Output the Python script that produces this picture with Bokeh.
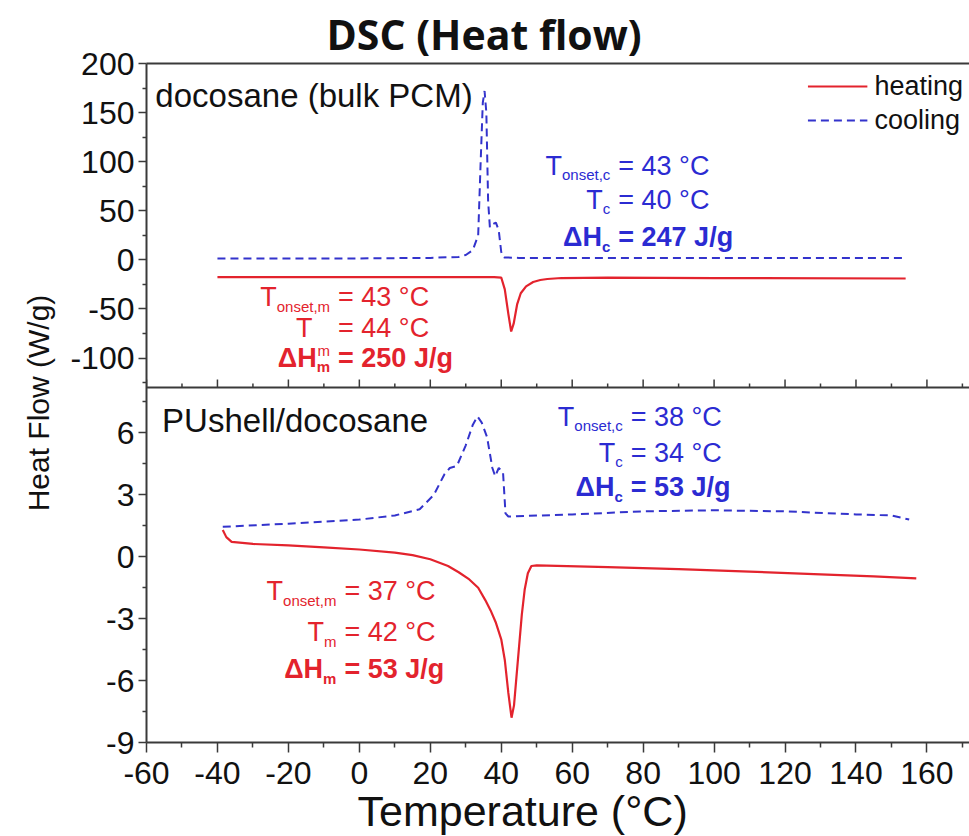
from bokeh.plotting import figure
from bokeh.models import (Range1d, LinearAxis, FixedTicker, CustomJSTickFormatter,
                          Span, Legend, LegendItem, Title)
from bokeh.core.properties import value
from bokeh.embed import file_html
from bokeh.resources import INLINE

# ---------------- data ----------------
# docosane (bulk PCM) - heating (W/g)
bulk_heat_T = [-40, 0, 38, 40, 41, 42, 42.8, 43.5, 44.5, 45.5, 47, 49, 51, 53, 57, 70, 100, 154]
bulk_heat_Q = [-17.5, -17.5, -17.5, -18, -30, -55, -73, -65, -45, -34, -27, -22.5, -20.5,
               -19.5, -18.5, -18, -18.5, -19]
# docosane (bulk PCM) - cooling
bulk_cool_T = [-40, 0, 20, 28, 30, 32, 33.5, 34.2, 34.8, 35.3, 35.8, 36.3, 36.8, 37.5,
               38.5, 39.3, 40, 40.8, 45, 100, 154]
bulk_cool_Q = [1.5, 1.5, 2, 3, 5, 10, 25, 100, 160, 172, 150, 60, 33, 36, 38, 30, 8, 2.5,
               2, 2, 2]
# PUshell/docosane - heating
shell_heat_T = [-38.5, -37.5, -36, -30, -20, -10, 0, 10, 15, 20, 25, 28, 31, 33.5, 35.5,
                37, 38.5, 40, 41, 42, 42.9, 43.6, 44.3, 45, 45.8, 46.6, 47.5, 48.5, 50,
                70, 90, 110, 130, 145, 157]
shell_heat_Q = [1.3, 0.95, 0.72, 0.62, 0.55, 0.45, 0.35, 0.2, 0.08, -0.12, -0.45, -0.75,
                -1.1, -1.5, -2.1, -2.6, -3.2, -4.0, -5.0, -6.6, -7.8, -7.2, -5.8, -4.4,
                -2.8, -1.6, -0.8, -0.45, -0.42, -0.5, -0.6, -0.72, -0.85, -0.95, -1.05]
# PUshell/docosane - cooling
shell_cool_T = [-38.5, -20, 0, 10, 17, 21, 24, 25.5, 27.5, 30, 32, 33.3, 34.5, 36, 37.5,
                38.3, 39.3, 40.5, 41.2, 42, 60, 80, 100, 120, 140, 150, 155]
shell_cool_Q = [1.45, 1.6, 1.8, 2.0, 2.3, 3.0, 4.0, 4.3, 4.4, 5.4, 6.4, 6.8, 6.5, 5.8, 4.3,
                3.9, 4.3, 4.1, 2.1, 1.95, 2.05, 2.2, 2.25, 2.2, 2.05, 2.0, 1.8]

x_ticks = [-60, -40, -20, 0, 20, 40, 60, 80, 100, 120, 140, 160]
x_minor = [-50, -30, -10, 10, 30, 50, 70, 90, 110, 130, 150, 170]
top_ticks = [-100, -50, 0, 50, 100, 150, 200]
top_minor = [-125, -75, -25, 25, 75, 125, 175]
bot_ticks = [-9, -6, -3, 0, 3, 6]
bot_minor = [-7.5, -4.5, -1.5, 1.5, 4.5, 7.5]

legend_labels = ["heating", "cooling"]
panel_labels = ["docosane (bulk PCM)", "PUshell/docosane"]

# annotation texts: (prefix, subscript, rest, bold)
top_cool_txt = [("T", "onset,c", "= 43 °C", False), ("T", "c", "= 40 °C", False),
                ("ΔH", "c", "= 247 J/g", True)]
top_heat_txt = [("T", "onset,m", "= 43 °C", False), ("T", "m", "= 44 °C", False),
                ("ΔH", "m", "= 250 J/g", True)]
bot_cool_txt = [("T", "onset,c", "= 38 °C", False), ("T", "c", "= 34 °C", False),
                ("ΔH", "c", "= 53 J/g", True)]
bot_heat_txt = [("T", "onset,m", "= 37 °C", False), ("T", "m", "= 42 °C", False),
                ("ΔH", "m", "= 53 J/g", True)]

X_LIM = (-60, 172)
TOP_LIM = (-130, 200)
BOT_LIM = (-9, 8.2)

# ---------------- layout ----------------
W, H = 969, 836
B_LEFT, B_TOP, B_BOTTOM = 146, 63, 94
frame_h = H - B_TOP - B_BOTTOM
top_h = 324
bot_h = frame_h - top_h

top_start = TOP_LIM[1] - (TOP_LIM[1] - TOP_LIM[0]) * frame_h / top_h
bot_end = BOT_LIM[0] + (BOT_LIM[1] - BOT_LIM[0]) * frame_h / bot_h
k = (bot_end - BOT_LIM[0]) / (TOP_LIM[1] - top_start)
px_unit = (bot_end - BOT_LIM[0]) / frame_h


def to_main(t):
    return BOT_LIM[0] + (t - top_start) * k


RED = "#e3232d"
BLUE = "#3333cc"
BLUE_TXT = "#2b2bd2"
AX = "#3a3a3a"
FONT = "Liberation Sans"

p = figure(width=W, height=H, output_backend="svg", toolbar_location=None,
           x_range=Range1d(*X_LIM), y_range=Range1d(BOT_LIM[0], bot_end),
           min_border_left=B_LEFT, min_border_right=0, min_border_top=B_TOP,
           min_border_bottom=B_BOTTOM)
p.extra_y_ranges = {"top": Range1d(top_start, TOP_LIM[1])}
p.outline_line_color = None
p.xgrid.visible = False
p.ygrid.visible = False
p.background_fill_color = "white"
p.border_fill_color = "white"

# title
p.title.text = "DSC (Heat flow)"
p.title.text_font = "Open Sans"
p.title.text_font_style = "bold"
p.title.text_font_size = "41px"
p.title.align = "left"
p.title.offset = 180
p.title.standoff = 3
p.title.text_color = "#111111"

# x axis (bottom)
xa = p.xaxis[0]
xa.ticker = FixedTicker(ticks=x_ticks, minor_ticks=x_minor)
xa.formatter = CustomJSTickFormatter(code="return String(Math.round(tick));")
xa.major_tick_out = 10
xa.major_tick_in = 0
xa.minor_tick_out = 5
xa.minor_tick_in = 0
xa.axis_line_color = AX
xa.axis_line_width = 2
xa.major_tick_line_color = AX
xa.minor_tick_line_color = AX
xa.major_tick_line_width = 1.5
xa.minor_tick_line_width = 1.5
xa.major_label_text_font = FONT
xa.major_label_text_font_size = "32px"
xa.major_label_text_color = "#111111"
xa.major_label_standoff = 9

# x axis title, placed below the axis where the reference has it
p.add_layout(Title(text="Temperature (°C)", align="left", offset=211, standoff=-4,
                   text_font=FONT, text_font_size="43px", text_font_style="normal",
                   text_color="#111111", vertical_align="bottom"), "below")

# y axis (left): shared line with both panels
ya = p.yaxis[0]
ya.ticker = FixedTicker(ticks=bot_ticks + [to_main(t) for t in top_ticks],
                        minor_ticks=bot_minor + [to_main(t) for t in top_minor])
ya.formatter = CustomJSTickFormatter(
    args=dict(split=BOT_LIM[1], t0=top_start, b0=BOT_LIM[0], k=k),
    code="""
    if (tick > split) { return String(Math.round(t0 + (tick - b0) / k)); }
    return String(Math.round(tick));
    """)
ya.major_tick_out = 8
ya.major_tick_in = 0
ya.minor_tick_out = 4
ya.minor_tick_in = 0
ya.axis_line_color = AX
ya.axis_line_width = 2
ya.major_tick_line_color = AX
ya.minor_tick_line_color = AX
ya.major_tick_line_width = 1.5
ya.minor_tick_line_width = 1.5
ya.major_label_text_font = FONT
ya.major_label_text_font_size = "32px"
ya.major_label_text_color = "#111111"
ya.major_label_standoff = 4
ya.axis_label = "Heat Flow (W/g)"
ya.axis_label_text_font = FONT
ya.axis_label_text_font_size = "30px"
ya.axis_label_text_font_style = "normal"
ya.axis_label_text_color = "#111111"
ya.axis_label_standoff = 12

# top frame line
top_axis = LinearAxis(ticker=FixedTicker(ticks=[]), major_tick_out=0, major_tick_in=0,
                      minor_tick_out=0, minor_tick_in=0, axis_line_color=AX,
                      axis_line_width=2, major_label_text_font_size="0px")
p.add_layout(top_axis, "above")

# boundary between the two panels, with ticks pointing up
p.add_layout(Span(location=BOT_LIM[1], dimension="width", line_color=AX, line_width=2))
p.segment(x0=x_ticks, x1=x_ticks, y0=[BOT_LIM[1]] * len(x_ticks),
          y1=[BOT_LIM[1] + 8 * px_unit] * len(x_ticks), line_color=AX, line_width=1.5)
p.segment(x0=x_minor, x1=x_minor, y0=[BOT_LIM[1]] * len(x_minor),
          y1=[BOT_LIM[1] + 4 * px_unit] * len(x_minor), line_color=AX, line_width=1.5)

# curves
r_heat = p.line(bulk_heat_T, bulk_heat_Q, y_range_name="top", line_color=RED, line_width=2.2)
r_cool = p.line(bulk_cool_T, bulk_cool_Q, y_range_name="top", line_color=BLUE,
                line_width=2, line_dash="8 5")
p.line(shell_heat_T, shell_heat_Q, line_color=RED, line_width=2.2)
p.line(shell_cool_T, shell_cool_Q, line_color=BLUE, line_width=2, line_dash="8 5")

legend = Legend(items=[LegendItem(label=legend_labels[0], renderers=[r_heat]),
                       LegendItem(label=legend_labels[1], renderers=[r_cool])],
                location="top_right", border_line_color=None, background_fill_alpha=0,
                label_text_font=FONT, label_text_font_size="27px", label_text_color="#111111",
                glyph_width=60, label_standoff=7, spacing=0, padding=2, margin=6,
                label_height=34, glyph_height=34)
p.add_layout(legend)

# panel labels
p.text(x=[-57.5], y=[167.5], text=[panel_labels[0]], y_range_name="top",
       text_font=value(FONT), text_font_size="33px", text_color="#111111",
       text_baseline="alphabetic")
p.text(x=[-55.6], y=[6.6], text=[panel_labels[1]],
       text_font=value(FONT), text_font_size="33px", text_color="#111111",
       text_baseline="alphabetic")

# annotations with subscripts
W_REG = {"o": .556, "n": .556, "s": .5, "e": .556, "t": .278, ",": .278, "c": .5, "m": .833}
W_BOLD = {"o": .611, "n": .611, "s": .556, "e": .556, "t": .333, ",": .278, "c": .556, "m": .889}
MAIN_SIZE = 27
SUB_SIZE = 15


def annotate(lines, ax, ys, color, yr, gap=8, sub_dy=(9, 9, 9), pre_extra=(0, 0, 0)):
    kw = {} if yr is None else {"y_range_name": yr}
    for (pre, sub, rest, bold), yv, sdy, pex in zip(lines, ys, sub_dy, pre_extra):
        style = "bold" if bold else "normal"
        table = W_BOLD if bold else W_REG
        sw = sum(table.get(ch, .55) for ch in sub) * SUB_SIZE
        p.text(x=[ax], y=[yv], text=[rest], text_font=value(FONT),
               text_font_size=f"{MAIN_SIZE}px", text_font_style=style, text_color=color,
               text_align="left", text_baseline="alphabetic", **kw)
        p.text(x=[ax], y=[yv], text=[sub], text_font=value(FONT),
               text_font_size=f"{SUB_SIZE}px", text_font_style=style, text_color=color,
               text_align="right", text_baseline="alphabetic", x_offset=-gap, y_offset=sdy,
               **kw)
        p.text(x=[ax], y=[yv], text=[pre], text_font=value(FONT),
               text_font_size=f"{MAIN_SIZE}px", text_font_style=style, text_color=color,
               text_align="right", text_baseline="alphabetic", x_offset=-(gap + sw + pex),
               **kw)


annotate(top_cool_txt, 73, [96, 61, 23], BLUE_TXT, "top")
annotate(top_heat_txt, -6, [-38.3, -68.9, -100.4], RED, "top", sub_dy=(9, 23, 8),
         pre_extra=(0, 5, 0))
annotate(bot_cool_txt, 76.5, [6.79, 5.05, 3.36], BLUE_TXT, None)
annotate(bot_heat_txt, -4.2, [-1.68, -3.67, -5.46], RED, None)

open("out.html", "w").write(file_html(p, INLINE))
